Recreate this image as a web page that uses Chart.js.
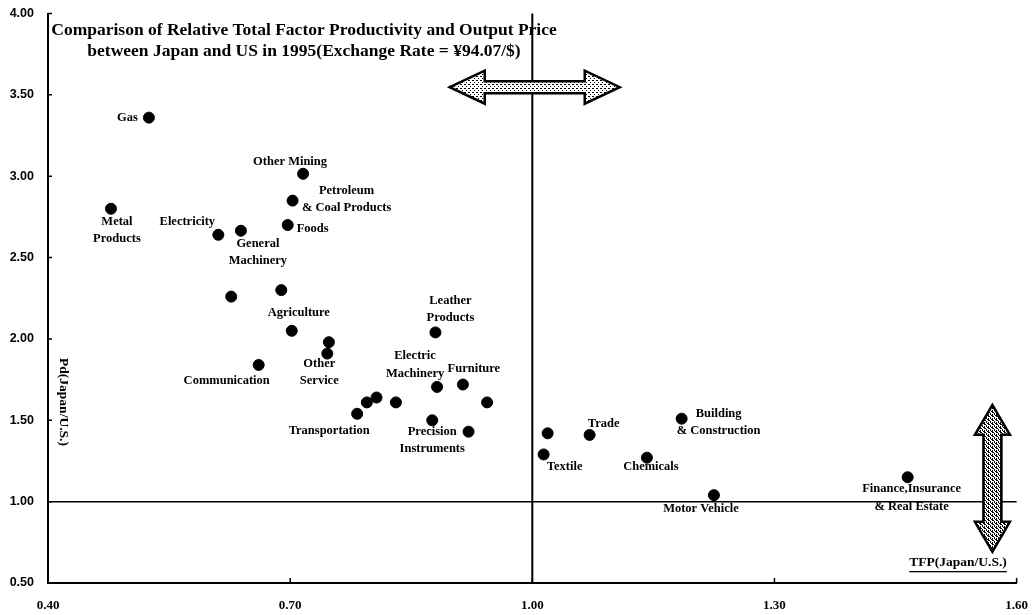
<!DOCTYPE html>
<html>
<head>
<meta charset="utf-8">
<script src="https://cdn.jsdelivr.net/npm/chart.js@4.4.0/dist/chart.umd.min.js"></script>
<style>
  html, body { margin: 0; padding: 0; background: #fff; }
</style>
</head>
<body>
<canvas id="tfpChart" width="1035" height="615"></canvas>
<script>
// sectors, relative TFP (Japan/US) and relative output price (Japan/US), 1995
const sectors = [
  "Gas", "Other Mining", "Petroleum & Coal Products", "Metal Products", "Foods",
  "Electricity", "General Machinery", "", "", "Agriculture",
  "", "Other Service", "Communication", "Leather Products", "Electric Machinery",
  "Furniture", "", "", "", "",
  "Transportation", "Precision Instruments", "", "Textile", "",
  "Trade", "Chemicals", "Building & Construction", "Motor Vehicle", "Finance,Insurance & Real Estate"
];
const tfp = [
  0.525, 0.716, 0.703, 0.478, 0.697,
  0.611, 0.639, 0.627, 0.689, 0.702,
  0.748, 0.746, 0.661, 0.880, 0.882,
  0.914, 0.944, 0.795, 0.807, 0.831,
  0.783, 0.876, 0.921, 1.014, 1.019,
  1.071, 1.142, 1.185, 1.225, 1.465
];
const price = [
  3.36, 3.015, 2.85, 2.80, 2.70,
  2.64, 2.665, 2.26, 2.30, 2.05,
  1.98, 1.91, 1.84, 2.04, 1.705,
  1.72, 1.61, 1.61, 1.64, 1.61,
  1.54, 1.50, 1.43, 1.29, 1.42,
  1.41, 1.27, 1.51, 1.04, 1.15
];
const xTickValues = [0.4, 0.7, 1.0, 1.3, 1.6];
const yTickValues = [0.5, 1.0, 1.5, 2.0, 2.5, 3.0, 3.5, 4.0];
const titleLines = [
  "Comparison of Relative Total Factor Productivity and Output Price",
  "between Japan and US in 1995(Exchange Rate = \u00a594.07/$)"
];

// label placement next to each point (pixels from the point)
const labelPlacement = {
  "Gas": { lines: ["Gas"], dx: -11, dy: 0, align: "right" },
  "Other Mining": { lines: ["Other Mining"], dx: -13, dy: -12 },
  "Petroleum & Coal Products": { lines: ["Petroleum", "& Coal Products"], dx: 54, dy: -10 },
  "Metal Products": { lines: ["Metal", "Products"], dx: 6, dy: 13 },
  "Foods": { lines: ["Foods"], dx: 9, dy: 4, align: "left" },
  "Electricity": { lines: ["Electricity"], dx: -31, dy: -13 },
  "General Machinery": { lines: ["General", "Machinery"], dx: 17, dy: 13 },
  "Agriculture": { lines: ["Agriculture"], dx: 7, dy: -18 },
  "Other Service": { lines: ["Other", "Service"], dx: -8, dy: 10 },
  "Communication": { lines: ["Communication"], dx: -32, dy: 16 },
  "Leather Products": { lines: ["Leather", "Products"], dx: 15, dy: -32 },
  "Electric Machinery": { lines: ["Electric", "Machinery"], dx: -22, dy: -31 },
  "Furniture": { lines: ["Furniture"], dx: 11, dy: -16 },
  "Transportation": { lines: ["Transportation"], dx: -28, dy: 17 },
  "Precision Instruments": { lines: ["Precision", "Instruments"], dx: 0, dy: 11 },
  "Textile": { lines: ["Textile"], dx: 21, dy: 12 },
  "Trade": { lines: ["Trade"], dx: 14, dy: -11 },
  "Chemicals": { lines: ["Chemicals"], dx: 4, dy: 9 },
  "Building & Construction": { lines: ["Building", "& Construction"], dx: 37, dy: -5 },
  "Motor Vehicle": { lines: ["Motor Vehicle"], dx: -13, dy: 14 },
  "Finance,Insurance & Real Estate": { lines: ["Finance,Insurance", "& Real Estate"], dx: 4, dy: 12 }
};

const serif = '"Liberation Serif", "Times New Roman", serif';

function makePattern(dark) {
  const tile = document.createElement("canvas");
  tile.width = 4;
  tile.height = 4;
  const t = tile.getContext("2d");
  t.fillStyle = "#fff";
  t.fillRect(0, 0, 4, 4);
  t.fillStyle = "#000";
  if (dark) {
    t.fillRect(0, 0, 2, 1);
    t.fillRect(2, 1, 1, 2);
    t.fillRect(0, 2, 1, 2);
    t.fillRect(3, 3, 1, 1);
  } else {
    t.fillRect(0, 0, 2, 1);
    t.fillRect(2, 2, 1, 1);
  }
  return tile;
}

// double arrow, horizontal or vertical, centred on (cx, cy)
function drawDoubleArrow(ctx, cx, cy, len, headLen, headHalf, shaftHalf, vertical, dark) {
  const pts = [
    [-len / 2, 0], [-len / 2 + headLen, -headHalf], [-len / 2 + headLen, -shaftHalf],
    [len / 2 - headLen, -shaftHalf], [len / 2 - headLen, -headHalf], [len / 2, 0],
    [len / 2 - headLen, headHalf], [len / 2 - headLen, shaftHalf],
    [-len / 2 + headLen, shaftHalf], [-len / 2 + headLen, headHalf]
  ];
  ctx.save();
  ctx.beginPath();
  pts.forEach(([a, b], i) => {
    const px = vertical ? cx + b : cx + a;
    const py = vertical ? cy + a : cy + b;
    i === 0 ? ctx.moveTo(px, py) : ctx.lineTo(px, py);
  });
  ctx.closePath();
  ctx.fillStyle = ctx.createPattern(makePattern(dark), "repeat");
  ctx.fill();
  ctx.lineWidth = 2.5;
  ctx.lineJoin = "miter";
  ctx.strokeStyle = "#000";
  ctx.stroke();
  ctx.restore();
}

const decorations = {
  id: "decorations",
  beforeDatasetsDraw(chart) {
    const { ctx, chartArea, scales: { x, y } } = chart;
    ctx.save();
    ctx.strokeStyle = "#000";
    // TFP = 1 line
    ctx.lineWidth = 2;
    ctx.beginPath();
    ctx.moveTo(x.getPixelForValue(1.0), chartArea.top);
    ctx.lineTo(x.getPixelForValue(1.0), chartArea.bottom);
    ctx.stroke();
    // price = 1 line
    ctx.lineWidth = 1.5;
    ctx.beginPath();
    ctx.moveTo(chartArea.left, y.getPixelForValue(1.0));
    ctx.lineTo(chartArea.right, y.getPixelForValue(1.0));
    ctx.stroke();
    // inward tick marks
    ctx.lineWidth = 1.5;
    ctx.beginPath();
    yTickValues.forEach((v) => {
      const py = y.getPixelForValue(v);
      ctx.moveTo(chartArea.left, py);
      ctx.lineTo(chartArea.left + 4, py);
    });
    xTickValues.forEach((v) => {
      const px = x.getPixelForValue(v);
      ctx.moveTo(px, chartArea.bottom);
      ctx.lineTo(px, chartArea.bottom - 5);
    });
    ctx.stroke();
    ctx.restore();
  },
  afterDatasetsDraw(chart) {
    const { ctx, chartArea, scales: { x, y } } = chart;
    ctx.save();
    ctx.fillStyle = "#000";

    // title
    ctx.font = "bold 17.5px " + serif;
    ctx.textAlign = "center";
    ctx.textBaseline = "middle";
    ctx.fillText(titleLines[0], 304, 30);
    ctx.fillText(titleLines[1], 304, 51);

    // point labels
    ctx.font = "bold 12.5px " + serif;
    const meta = chart.getDatasetMeta(0);
    sectors.forEach((name, i) => {
      const place = labelPlacement[name];
      if (!place) return;
      const pt = meta.data[i];
      ctx.textAlign = place.align || "center";
      place.lines.forEach((line, k) => {
        ctx.fillText(line, pt.x + place.dx, pt.y + place.dy + k * 17.5);
      });
    });

    // arrows
    drawDoubleArrow(ctx, x.getPixelForValue(1.003), y.getPixelForValue(3.547), 170, 35, 16.5, 6, false, false);
    drawDoubleArrow(ctx, x.getPixelForValue(1.570), y.getPixelForValue(1.143), 147, 30, 17.5, 9, true, true);

    // axis titles
    ctx.font = "bold 13.5px " + serif;
    ctx.textAlign = "center";
    const tx = 958, ty = 563;
    ctx.fillText("TFP(Japan/U.S.)", tx, ty);
    const w = ctx.measureText("TFP(Japan/U.S.)").width;
    ctx.fillRect(tx - w / 2, ty + 8, w, 1.3);

    ctx.translate(chartArea.left + 15, 402);
    ctx.rotate(Math.PI / 2);
    ctx.fillText("Pd(Japan/U.S.)", 0, 0);
    ctx.restore();
  }
};

const ctx = document.getElementById("tfpChart").getContext("2d");
new Chart(ctx, {
  type: "scatter",
  data: {
    datasets: [{
      label: "Sectors",
      data: tfp.map((v, i) => ({ x: v, y: price[i] })),
      backgroundColor: "#000",
      borderColor: "#000",
      pointRadius: 5.5,
      pointHoverRadius: 5.5
    }]
  },
  plugins: [decorations],
  options: {
    responsive: false,
    animation: false,
    layout: { padding: { top: 9, right: 18, left: 0, bottom: 0 } },
    plugins: {
      legend: { display: false },
      tooltip: { enabled: false }
    },
    scales: {
      x: {
        type: "linear",
        min: 0.4,
        max: 1.6,
        afterBuildTicks: (scale) => { scale.ticks = xTickValues.map((v) => ({ value: v })); },
        afterFit: (scale) => { scale.height = 32; },
        border: { display: true, color: "#000", width: 2 },
        grid: { display: false },
        ticks: {
          color: "#000",
          padding: 7,
          maxRotation: 0,
          font: { family: serif, size: 13, weight: "bold" },
          callback: (v) => Number(v).toFixed(2)
        }
      },
      y: {
        type: "linear",
        min: 0.5,
        max: 4.0,
        afterBuildTicks: (scale) => { scale.ticks = yTickValues.map((v) => ({ value: v })); },
        afterFit: (scale) => { scale.width = 48; },
        border: { display: true, color: "#000", width: 2 },
        grid: { display: false },
        ticks: {
          color: "#000",
          padding: 6,
          font: { family: '"Liberation Sans", Arial, sans-serif', size: 12.5, weight: "bold" },
          callback: (v) => Number(v).toFixed(2)
        }
      }
    }
  }
});
</script>
</body>
</html>
